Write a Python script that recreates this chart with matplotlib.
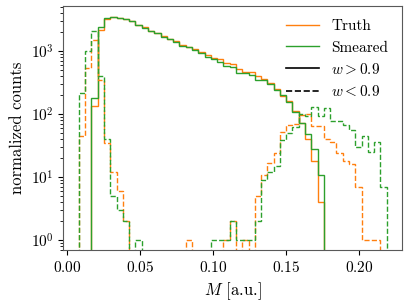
import numpy as np
import matplotlib
matplotlib.use("Agg")
import matplotlib.pyplot as plt
from matplotlib.lines import Line2D

plt.rcParams["font.family"] = "serif"
plt.rcParams["font.serif"] = ["cmr10"]
plt.rcParams["mathtext.fontset"] = "cm"
plt.rcParams["axes.formatter.use_mathtext"] = True
plt.rcParams["font.size"] = 11

# ── Data: 49 bins between M_MIN and M_MAX ─────────────────────────────────────
M_MIN, M_MAX, N_EDGES = 0.0082, 0.2188, 50

truth_hi = [0, 0, 134, 2150, 3250, 3500, 3380, 3220, 2960, 2620,
            2370, 2090, 1920, 1730, 1550, 1440, 1250, 1160, 1070, 950,
            860, 765, 740, 636, 620, 520, 460, 458, 400, 355,
            307, 250, 195, 160, 112, 73, 41, 18, 4, 0,
            0, 0, 0, 0, 0, 0, 0, 0, 0]
smeared_hi = [0, 0, 178, 2420, 3290, 3470, 3360, 3200, 2940, 2600,
              2280, 2045, 1900, 1680, 1530, 1385, 1195, 1165, 1030, 925,
              790, 736, 675, 576, 550, 452, 442, 410, 350, 346,
              296, 240, 200, 157, 109, 73, 49, 28, 11, 0,
              0, 0, 0, 0, 0, 0, 0, 0, 0]
truth_lo = [45, 530, 1500, 346, 35, 12, 6, 2, 0, 0,
            0, 0, 0, 0, 0, 0, 0, 1, 0, 0,
            0, 0, 0, 1, 2, 0, 1, 0, 5, 11,
            17, 24, 52, 67, 69, 96, 100, 65, 65, 41,
            36, 24, 18, 16, 7, 1, 1, 1, 0]
smeared_lo = [213, 1007, 2070, 400, 41, 5, 3, 2, 0, 1,
              0, 0, 0, 0, 0, 0, 0, 0, 0, 0,
              0, 1, 1, 1, 2, 1, 1, 1, 2, 9,
              12, 15, 39, 51, 63, 100, 93, 128, 93, 123,
              78, 78, 67, 56, 30, 45, 25, 36, 7]

ORANGE = "#ff7f0e"
GREEN = "#2ca02c"

edges = np.linspace(M_MIN, M_MAX, N_EDGES)

fig = plt.figure(figsize=(4.07, 3.05), dpi=100)
ax = fig.add_axes([0.156, 0.180, 0.832, 0.801])

ax.stairs(truth_hi, edges, color=ORANGE, lw=1.0)
ax.stairs(smeared_hi, edges, color=GREEN, lw=1.0)
ax.stairs(truth_lo, edges, color=ORANGE, lw=1.0, linestyle="--")
ax.stairs(smeared_lo, edges, color=GREEN, lw=1.0, linestyle="--")

ax.set_yscale("log")
span = M_MAX - M_MIN
ax.set_xlim(M_MIN - 0.05 * span, M_MAX + 0.05 * span)
ax.set_ylim(0.70, 5200)
ax.set_xticks([0.0, 0.05, 0.10, 0.15, 0.20])
ax.tick_params(labelsize=11)
for s in ax.spines.values():
    s.set_color("0.35")

ax.set_xlabel(r"$M$ [a.u.]", fontsize=12)
ax.set_ylabel("normalized counts", fontsize=12)

handles = [
    Line2D([], [], color=ORANGE, lw=1.0),
    Line2D([], [], color=GREEN, lw=1.0),
    Line2D([], [], color="black", lw=1.2),
    Line2D([], [], color="black", lw=1.2, linestyle="--"),
]
labels = ["Truth", "Smeared", r"$w > 0.9$", r"$w < 0.9$"]
ax.legend(handles, labels, loc="upper right", frameon=False, handlelength=2.2,
          fontsize=11)

fig.savefig("out.png", dpi=100)
